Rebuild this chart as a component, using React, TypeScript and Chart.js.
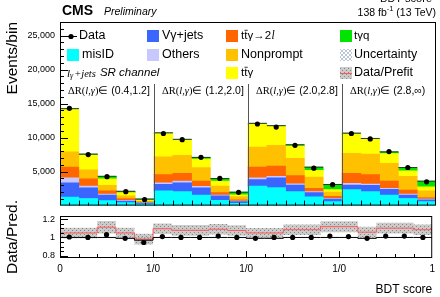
import React, { useEffect, useRef } from 'react';
import { Chart, registerables } from 'chart.js';
Chart.register(...registerables);

const SANS = '"Liberation Sans", Arial, Helvetica, sans-serif';
const SERIF = '"Liberation Serif", "Times New Roman", serif';

// ---------------- data ----------------
const regionRanges = ['(0.4,1.2]', '(1.2,2.0]', '(2.0,2.8]', '(2.8,∞)'];
const regionStarts = [0, 5, 10, 15];
const regionEdges = [5, 10, 15];
const xTickValues = [0, 5, 10, 15, 20];
const xTickLabels = ['0', '1/0', '1/0', '1/0', '1'];
const yMainTicks = [5000, 10000, 15000, 20000, 25000];
const yRatioTicks = [0.8, 1, 1.2];

const misID = [1250, 1050, 720, 430, 240, 2160, 2050, 1530, 770, 340, 2870, 2650, 2060, 1290, 580, 2350, 2060, 1530, 1050, 575];
const vgammaJets = [2100, 1580, 810, 240, 140, 950, 1300, 1100, 670, 235, 960, 1450, 960, 620, 370, 670, 910, 870, 480, 285];
const others = [720, 240, 150, 90, 40, 240, 250, 200, 90, 95, 240, 200, 190, 150, 100, 240, 190, 140, 150, 100];
const ttgDilep = [1580, 1060, 475, 290, 110, 1200, 1150, 760, 380, 190, 1580, 1500, 1200, 480, 300, 1490, 1390, 1050, 620, 230];
const nonprompt = [2250, 1340, 815, 390, 140, 2640, 2650, 2010, 960, 480, 2970, 3050, 2530, 1670, 650, 2950, 3020, 2640, 2010, 970];
const ttgamma = [6250, 2160, 960, 470, 100, 3410, 2250, 1250, 720, 240, 3380, 2800, 1830, 960, 350, 2850, 2180, 1430, 820, 610];
const tgammaq = [100, 140, 380, 200, 200, 100, 100, 240, 390, 390, 100, 100, 180, 480, 750, 100, 120, 240, 470, 820];

const dataCounts = [14300, 7500, 4250, 2050, 900, 10600, 9700, 7100, 4000, 1950, 12000, 11550, 8870, 5500, 3070, 10600, 9800, 7950, 5600, 3500];

const dataRatio = [1.005, 1.0, 1.03, 0.99, 0.945, 1.01, 1.0, 1.0, 1.015, 1.0, 0.99, 1.0, 1.0, 1.0, 1.015, 1.01, 0.99, 1.015, 1.015, 1.0];
const postfitRatio = [1.0, 1.0, 1.0, 0.99, 0.97, 1.0, 1.0, 1.0, 1.0, 1.0, 0.99, 0.99, 1.0, 1.0, 1.0, 1.0, 0.99, 1.0, 1.0, 1.0];
const prefitRatio = [1.049, 1.049, 1.112, 1.049, 0.982, 1.096, 1.078, 1.078, 1.09, 1.076, 1.049, 1.049, 1.085, 1.085, 1.118, 1.118, 1.058, 1.102, 1.102, 1.085];
const prefitUnc = [0.058, 0.058, 0.068, 0.058, 0.058, 0.058, 0.058, 0.058, 0.058, 0.058, 0.055, 0.055, 0.058, 0.058, 0.06, 0.06, 0.058, 0.058, 0.058, 0.058];

const seriesLabels = ['misID', 'Vγ+jets', 'Others', 'tt̄γ→2l', 'Nonprompt', 'tt̄γ', 'tγq'];
const seriesColors = ['#00ffff', '#3a66ff', '#c8c8ff', '#ff6600', '#ffc000', '#ffff00', '#00e400'];
const seriesValues = [misID, vgammaJets, others, ttgDilep, nonprompt, ttgamma, tgammaq];

// ---------------- helpers ----------------
const atCenters = (arr: number[]) => arr.map((v, i) => ({ x: i + 0.5, y: v }));
const asSteps = (arr: number[]) => [...arr.map((v, i) => ({ x: i, y: v })), { x: arr.length, y: arr[arr.length - 1] }];
const asFlats = (arr: number[]) => {
  const out: any[] = [];
  arr.forEach((v, i) => {
    out.push({ x: i, y: v }, { x: i + 1, y: v }, { x: i + 1, y: null });
  });
  return out;
};

function line(ctx: CanvasRenderingContext2D, x1: number, y1: number, x2: number, y2: number) {
  ctx.beginPath();
  ctx.moveTo(x1, y1);
  ctx.lineTo(x2, y2);
  ctx.stroke();
}

function rich(ctx: CanvasRenderingContext2D, x: number, y: number, parts: { t: string; font: string; dy?: number }[]) {
  let cx = x;
  for (const p of parts) {
    ctx.font = p.font;
    ctx.fillText(p.t, cx, y + (p.dy || 0));
    cx += ctx.measureText(p.t).width;
  }
  return cx;
}

function ttbar(ctx: CanvasRenderingContext2D, x: number, y: number, size: number) {
  ctx.font = `${size}px ${SANS}`;
  const w = ctx.measureText('t').width;
  ctx.fillText('t', x, y);
  ctx.fillText('t', x + w, y);
  ctx.save();
  ctx.lineWidth = 0.8;
  ctx.strokeStyle = '#000';
  line(ctx, x + w + 0.3, y - size * 0.5, x + 2 * w + 0.3, y - size * 0.5);
  ctx.restore();
  return x + 2 * w;
}

function makePattern() {
  const c = document.createElement('canvas');
  c.width = 4;
  c.height = 4;
  const g = c.getContext('2d')!;
  g.fillStyle = '#cbcbcb';
  g.fillRect(0, 0, 4, 4);
  g.fillStyle = '#888';
  g.fillRect(0, 0, 1, 1);
  g.fillRect(2, 2, 1, 1);
  return g.createPattern(c, 'repeat');
}

const mainDecor = {
  id: 'mainDecor',
  afterDatasetsDraw(chart: any) {
    const { ctx, chartArea: a, scales } = chart;
    const x = scales.x;
    const y = scales.y;
    ctx.save();
    ctx.lineWidth = 1;
    ctx.strokeStyle = '#555';
    for (const b of regionEdges) {
      const px = Math.round(x.getPixelForValue(b)) + 0.5;
      line(ctx, px, 84, px, a.bottom);
    }
    ctx.strokeStyle = '#000';
    ctx.strokeRect(a.left + 0.5, a.top + 0.5, a.right - a.left - 1, a.bottom - a.top - 1);
    for (let v = 1000; v < 27000; v += 1000) {
      const py = Math.round(y.getPixelForValue(v)) + 0.5;
      const len = v % 5000 === 0 ? 8 : 4;
      line(ctx, a.left, py, a.left + len, py);
    }
    for (let k = 1; k < 40; k++) {
      const px = Math.round(x.getPixelForValue(k / 2)) + 0.5;
      const len = k % 2 === 0 ? 5 : 3;
      line(ctx, px, a.bottom, px, a.bottom - len);
    }
    ctx.restore();
  },
  afterDraw(chart: any) {
    const { ctx, scales } = chart;
    const x = scales.x;
    const a = chart.chartArea;
    const ds = chart.data.datasets;
    ctx.save();
    ctx.fillStyle = '#000';
    ctx.textBaseline = 'middle';
    ctx.textAlign = 'left';
    // header
    ctx.font = `bold 14px ${SANS}`;
    ctx.fillText('CMS', 62, 11);
    ctx.font = `italic 10.5px ${SANS}`;
    ctx.fillText('Preliminary', 104, 12);
    ctx.font = `10.5px ${SANS}`;
    const w1 = ctx.measureText('138 fb').width;
    const w3 = ctx.measureText(' (13 TeV)').width;
    ctx.font = `7.5px ${SANS}`;
    const w2 = ctx.measureText('-1').width;
    const sx = a.right - (w1 + w2 + w3);
    rich(ctx, sx, 13, [
      { t: '138 fb', font: `10.5px ${SANS}` },
      { t: '-1', font: `7.5px ${SANS}`, dy: -4 },
      { t: ' (13 TeV)', font: `10.5px ${SANS}` },
    ]);
    ctx.font = `11px ${SANS}`;
    ctx.textAlign = 'right';
    ctx.fillText('BDT score', 432, -1);
    ctx.textAlign = 'left';

    // legend
    const box = (bx: number, by: number, color: string) => {
      ctx.fillStyle = color;
      ctx.fillRect(bx, by, 12, 12);
      ctx.fillStyle = '#000';
    };
    const f = `12.5px ${SANS}`;
    // Data
    ctx.strokeStyle = '#000';
    ctx.lineWidth = 1;
    line(ctx, 65, 36.5, 77, 36.5);
    ctx.beginPath();
    ctx.arc(71, 36.5, 2.6, 0, Math.PI * 2);
    ctx.fill();
    ctx.font = f;
    ctx.fillText(ds[8].label, 79, 36);
    // series boxes
    const slots = [
      [67, 49, 82],
      [147, 30, 162],
      [147, 49, 162],
      [226, 30, 241],
      [226, 49, 241],
      [226, 67, 241],
      [340, 30, 354],
    ];
    for (let i = 0; i < 7; i++) {
      const [bx, by, tx] = slots[i];
      box(bx, by, ds[i].backgroundColor);
      const ty = by + 6;
      if (i === 3) {
        const nx = ttbar(ctx, tx, ty, 11.5);
        const nx2 = rich(ctx, nx, ty, [{ t: 'γ→2', font: `11.5px ${SANS}` }]);
        rich(ctx, nx2 + 0.5, ty, [{ t: 'l', font: `italic 11.5px ${SERIF}` }]);
      } else if (i === 5) {
        const nx = ttbar(ctx, tx, ty, 11.5);
        rich(ctx, nx, ty, [{ t: 'γ', font: `11.5px ${SANS}` }]);
      } else if (i === 6) {
        rich(ctx, tx, ty, [{ t: 'tγq', font: `11.5px ${SANS}` }]);
      } else {
        ctx.font = f;
        ctx.fillText(seriesLabels[i], tx, ty);
      }
    }
    // Uncertainty icon (cross hatch)
    ctx.save();
    ctx.beginPath();
    ctx.rect(340, 49, 12, 12);
    ctx.clip();
    ctx.strokeStyle = '#a9b8cc';
    ctx.lineWidth = 0.8;
    for (let k = -12; k <= 12; k += 4) {
      line(ctx, 340 + k, 49, 352 + k, 61);
      line(ctx, 352 - k, 49, 340 - k, 61);
    }
    ctx.restore();
    ctx.font = f;
    ctx.fillText('Uncertainty', 354, 55);
    // Data/Prefit icon
    ctx.fillStyle = chart.$bandPattern || '#ccc';
    ctx.fillRect(340, 67, 12, 12);
    ctx.strokeStyle = '#ff5a5a';
    ctx.lineWidth = 1;
    line(ctx, 340, 73.5, 352, 73.5);
    ctx.fillStyle = '#000';
    ctx.font = f;
    ctx.fillText('Data/Prefit', 354, 73);
    // channel label
    let cx = rich(ctx, 67, 74, [{ t: 'l', font: `italic 11px ${SERIF}` }]);
    cx = rich(ctx, cx, 76, [{ t: 'γ', font: `italic 8px ${SERIF}` }]);
    cx = rich(ctx, cx + 1, 74, [{ t: '+jets', font: `italic 10.5px ${SERIF}` }]);
    rich(ctx, cx + 4, 73, [{ t: 'SR channel', font: `italic 11.5px ${SANS}` }]);
    // region labels
    regionRanges.forEach((r, i) => {
      const px = x.getPixelForValue(regionStarts[i]) + 8;
      const nx = rich(ctx, px, 91, [{ t: 'ΔR(', font: `10.5px ${SERIF}` }]);
      const nx2 = rich(ctx, nx, 91, [{ t: 'l', font: `italic 10.5px ${SERIF}` }, { t: ',', font: `10.5px ${SERIF}` }, { t: 'γ', font: `italic 10.5px ${SERIF}` }, { t: ')', font: `10.5px ${SERIF}` }]);
      rich(ctx, nx2, 91, [{ t: '∈ ' + r, font: `10.5px ${SANS}` }]);
    });
    ctx.restore();
  },
};

const ratioDecor = {
  id: 'ratioDecor',
  afterDatasetsDraw(chart: any) {
    const { ctx, chartArea: a, scales } = chart;
    const x = scales.x;
    const y = scales.y;
    ctx.save();
    ctx.strokeStyle = '#000';
    ctx.lineWidth = 1;
    ctx.strokeRect(a.left + 0.5, a.top + 0.5, a.right - a.left - 1, a.bottom - a.top - 1);
    for (let k = 16; k <= 24; k++) {
      const v = k * 0.05;
      const py = Math.round(y.getPixelForValue(v)) + 0.5;
      const len = k % 4 === 0 ? 8 : 4;
      line(ctx, a.left, py, a.left + len, py);
    }
    for (let k = 1; k < 20; k++) {
      const px = Math.round(x.getPixelForValue(k)) + 0.5;
      const len = k % 5 === 0 ? 7 : 4;
      line(ctx, px, a.bottom, px, a.bottom - len);
    }
    ctx.restore();
  },
};

export default function App() {
  const mainRef = useRef<HTMLCanvasElement>(null);
  const ratioRef = useRef<HTMLCanvasElement>(null);

  useEffect(() => {
    const pattern = makePattern();
    const total = dataCounts.map((_, i) => seriesValues.reduce((s, arr) => s + arr[i], 0));

    const main = new Chart(mainRef.current!, {
      type: 'bar',
      data: {
        datasets: [
          ...seriesValues.map((vals, i) => ({
            type: 'bar' as const,
            label: seriesLabels[i],
            data: atCenters(vals),
            backgroundColor: seriesColors[i],
            borderWidth: 0,
            barPercentage: 1,
            categoryPercentage: 1,
            stack: 'mc',
            order: 3,
          })),
          {
            type: 'line' as const,
            label: 'Total',
            data: asFlats(total),
            borderColor: '#333',
            borderWidth: 1,
            pointRadius: 0,
            spanGaps: false,
            fill: false,
            stack: 'tot',
            order: 2,
          },
          {
            type: 'line' as const,
            label: 'Data',
            data: atCenters(dataCounts),
            showLine: false,
            pointRadius: 2.6,
            pointBackgroundColor: '#000',
            pointBorderWidth: 0,
            stack: 'data',
            order: 1,
          },
        ] as any,
      },
      options: {
        animation: false,
        responsive: false,
        maintainAspectRatio: false,
        layout: { padding: { top: 22, right: 3, bottom: 6, left: 0 } },
        plugins: { legend: { display: false }, tooltip: { enabled: false } },
        scales: {
          x: { type: 'linear', min: 0, max: 20, offset: false, stacked: true, display: false },
          y: {
            type: 'linear',
            stacked: true,
            min: 0,
            max: 27000,
            afterFit: (s: any) => { s.width = 60; },
            afterBuildTicks: (s: any) => { s.ticks = yMainTicks.map((v) => ({ value: v })); },
            grid: { display: false, drawTicks: false },
            border: { display: false },
            ticks: { font: { size: 9, family: SANS }, color: '#000', padding: 5 },
            title: { display: true, text: 'Events/bin', align: 'end', font: { size: 15.5, family: SANS }, color: '#000', padding: { top: 3, bottom: 0 } },
          },
        },
      } as any,
      plugins: [mainDecor],
    });
    (main as any).$bandPattern = pattern;
    main.draw();

    const upper = prefitRatio.map((v, i) => v + prefitUnc[i]);
    const lower = prefitRatio.map((v, i) => v - prefitUnc[i]);

    const ratio = new Chart(ratioRef.current!, {
      type: 'line',
      data: {
        datasets: [
          { label: 'low', data: asSteps(lower), stepped: true, borderWidth: 0, pointRadius: 0, fill: false, order: 6 },
          { label: 'high', data: asSteps(upper), stepped: true, borderWidth: 0, pointRadius: 0, fill: '-1', backgroundColor: pattern, order: 5 },
          { label: 'unity', data: [{ x: 0, y: 1 }, { x: 20, y: 1 }], borderColor: '#9a9a9a', borderDash: [1.5, 1.5], borderWidth: 1, pointRadius: 0, order: 4 },
          { label: 'Data/Prefit', data: asSteps(prefitRatio), stepped: true, borderColor: '#ff5a5a', borderWidth: 1, pointRadius: 0, order: 3 },
          { label: 'Postfit', data: asSteps(postfitRatio), stepped: true, borderColor: '#000', borderWidth: 1, pointRadius: 0, order: 2 },
          { label: 'Data', data: atCenters(dataRatio), showLine: false, pointRadius: 2.6, pointBackgroundColor: '#000', pointBorderWidth: 0, order: 1 },
        ] as any,
      },
      options: {
        animation: false,
        responsive: false,
        maintainAspectRatio: false,
        layout: { padding: { top: 26, right: 3, bottom: 0, left: 0 } },
        plugins: { legend: { display: false }, tooltip: { enabled: false } },
        scales: {
          x: {
            type: 'linear',
            min: 0,
            max: 20,
            afterBuildTicks: (s: any) => { s.ticks = xTickValues.map((v) => ({ value: v })); },
            afterFit: (s: any) => { s.height = 39; },
            grid: { display: false, drawTicks: false },
            border: { display: false },
            ticks: {
              autoSkip: false,
              maxRotation: 0,
              font: { size: 10, family: SANS },
              color: '#000',
              padding: 5,
              callback: (v: number) => xTickLabels[xTickValues.indexOf(v)],
            },
            title: { display: true, text: 'BDT score', align: 'end', font: { size: 12, family: SANS }, color: '#000', padding: 0 },
          },
          y: {
            type: 'linear',
            min: 0.775,
            max: 1.235,
            afterFit: (s: any) => { s.width = 60; },
            afterBuildTicks: (s: any) => { s.ticks = yRatioTicks.map((v) => ({ value: v })); },
            grid: { display: false, drawTicks: false },
            border: { display: false },
            ticks: { font: { size: 9, family: SANS }, color: '#000', padding: 5, callback: (v: number) => String(v) },
            title: { display: true, text: 'Data/Pred.', align: 'center', font: { size: 15.5, family: SANS }, color: '#000', padding: { top: 3, bottom: 0 } },
          },
        },
      } as any,
      plugins: [ratioDecor],
    });

    return () => {
      main.destroy();
      ratio.destroy();
    };
  }, []);

  return (
    <div style={{ position: 'absolute', left: 0, top: 0, width: 440, height: 297, background: '#fff' }}>
      <canvas ref={mainRef} width={440} height={216} style={{ position: 'absolute', left: 0, top: 0, width: 440, height: 216 }} />
      <canvas ref={ratioRef} width={440} height={107} style={{ position: 'absolute', left: 0, top: 190, width: 440, height: 107 }} />
    </div>
  );
}
